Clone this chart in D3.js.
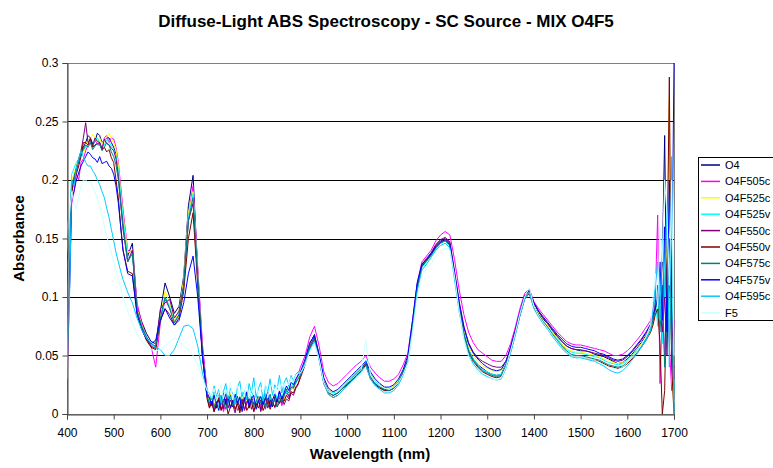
<!DOCTYPE html>
<html><head><meta charset="utf-8">
<script src="https://cdn.jsdelivr.net/npm/d3@7"></script>
<style>html,body{margin:0;padding:0;background:#fff;}svg{display:block;font-family:Arial,"Liberation Sans",sans-serif;}</style>
</head><body>
<svg id="c" width="773" height="468"></svg>
<script>
// Wavelengths (nm)
const wavelengths = [400,405,410,415,420,425,430,435,440,445,450,455,460,465,470,475,480,485,490,495,500,505,510,515,520,
 530,540,550,560,570,580,590,600,610,620,630,640,650,660,670,680,690,700,
 705,710,715,720,725,730,735,740,745,750,755,760,765,770,775,780,785,790,795,800,805,810,815,820,825,830,835,840,845,850,855,860,865,870,875,880,885,890,895,
 900,910,920,930,940,950,960,970,980,990,1000,1010,1020,1030,1040,1050,1060,1070,1080,1090,1100,1110,1120,1130,1140,1150,1160,1170,1180,1190,
 1200,1210,1220,1230,1240,1250,1260,1270,1280,1290,1300,1310,1320,1330,1340,1350,1360,1370,1380,1390,1400,1410,1420,1430,1440,1450,1460,1470,1480,1490,
 1500,1510,1520,1530,1540,1550,1560,1570,1580,1590,1600,1610,1620,1630,1640,1650,
 1655,1660,1665,1670,1675,1680,1685,1690,1695,1700];

const seriesNames = ["O4","O4F505c","O4F525c","O4F525v","O4F550c","O4F550v","O4F575c","O4F575v","O4F595c","F5"];
const seriesColors = ["#000080","#FF00FF","#FFFF00","#00FFFF","#800080","#800000","#008080","#0000FF","#00CCFF","#CCFFFF"];

const O4 = [.06,.12,.19,.2,.208,.216,.222,.228,.232,.238,.236,.231,.233,.24,.238,.232,.234,.236,.236,.232,.228,.222,.207,.185,.165,
 .135,.146,.092,.079,.069,.062,.06,.088,.112,.1,.086,.092,.118,.178,.204,.122,.056,.018,
 .014,.008,.019,.005,.012,.016,.004,.013,.009,.018,.006,.011,.015,.003,.012,.009,.017,.005,.014,.01,.007,.016,.004,.012,.018,.008,.013,.006,.015,.011,.019,.009,.016,.021,.015,.024,.022,.028,.03,
 .034,.045,.06,.068,.05,.028,.019,.016,.018,.022,.027,.031,.035,.039,.044,.032,.027,.024,.021,.021,.023,.028,.036,.047,.076,.11,.127,.132,.137,.144,
 .148,.15,.146,.119,.092,.07,.055,.047,.042,.039,.036,.034,.033,.034,.043,.056,.07,.086,.1,.106,.094,.087,.081,.077,.071,.066,.062,.058,.056,.055,
 .054,.054,.053,.051,.05,.049,.047,.045,.043,.044,.047,.051,.056,.061,.067,.074,
 .08,.088,.1,.095,.13,.238,.07,.15,.05,.04];
const O4F505c = [.02,.1,.18,.19,.205,.2,.215,.218,.225,.23,.232,.228,.235,.23,.23,.226,.236,.238,.232,.236,.235,.228,.215,.195,.175,
 .14,.138,.095,.078,.066,.058,.04,.078,.098,.09,.078,.085,.112,.17,.195,.125,.06,.02,
 .008,.015,.004,.011,.006,.014,.002,.009,.013,.005,.01,.016,.003,.008,.012,.004,.011,.007,.015,.002,.009,.013,.006,.01,.004,.014,.008,.012,.005,.011,.016,.007,.013,.018,.015,.022,.024,.028,.034,
 .04,.05,.066,.075,.058,.036,.027,.024,.026,.03,.034,.038,.042,.045,.05,.04,.035,.031,.028,.028,.03,.034,.042,.052,.08,.112,.13,.135,.14,.148,
 .153,.156,.153,.132,.106,.085,.07,.061,.055,.052,.049,.046,.045,.045,.05,.06,.074,.09,.103,.107,.096,.09,.085,.08,.075,.07,.066,.062,.06,.059,
 .059,.058,.057,.056,.055,.054,.052,.05,.05,.051,.054,.058,.063,.068,.074,.08,
 .09,.1,.17,.026,.09,.05,.11,.06,.02,.08];
const O4F525c = [.165,.14,.2,.205,.212,.218,.225,.222,.23,.234,.235,.239,.237,.232,.236,.231,.234,.237,.24,.236,.232,.226,.212,.19,.17,
 .138,.14,.09,.076,.066,.06,.058,.082,.105,.095,.08,.088,.115,.172,.19,.12,.052,.016,
 .011,.017,.007,.013,.02,.009,.015,.006,.012,.018,.008,.014,.005,.011,.016,.009,.013,.019,.007,.012,.006,.015,.009,.017,.011,.006,.014,.01,.018,.008,.012,.016,.011,.02,.017,.024,.021,.026,.03,
 .035,.046,.059,.066,.049,.029,.021,.018,.02,.024,.028,.032,.036,.04,.045,.035,.029,.025,.023,.022,.024,.029,.037,.048,.076,.109,.126,.131,.136,.142,
 .147,.149,.145,.12,.094,.072,.058,.05,.045,.041,.039,.037,.036,.037,.044,.056,.07,.086,.1,.105,.093,.086,.08,.075,.07,.065,.06,.056,.054,.053,
 .053,.052,.051,.05,.049,.047,.046,.044,.043,.044,.046,.05,.055,.06,.066,.073,
 .078,.085,.095,.11,.08,.12,.14,.27,.03,.01];
const O4F525v = [.14,.16,.205,.21,.215,.218,.222,.226,.228,.231,.232,.229,.234,.236,.232,.228,.23,.234,.233,.229,.226,.22,.208,.188,.168,
 .133,.138,.088,.075,.066,.059,.057,.08,.1,.092,.078,.086,.11,.168,.188,.118,.05,.015,
 .013,.009,.018,.011,.006,.016,.012,.02,.008,.014,.01,.017,.013,.007,.019,.011,.015,.009,.021,.012,.008,.016,.013,.006,.018,.011,.015,.009,.02,.013,.017,.012,.022,.018,.025,.021,.028,.026,.032,
 .036,.044,.058,.065,.048,.028,.02,.018,.019,.023,.027,.031,.035,.039,.046,.034,.028,.024,.022,.021,.023,.028,.036,.047,.076,.108,.125,.13,.135,.141,
 .146,.148,.144,.118,.091,.069,.055,.047,.042,.038,.036,.034,.033,.034,.042,.055,.07,.087,.101,.106,.092,.085,.079,.074,.069,.064,.059,.055,.053,.052,
 .052,.051,.05,.049,.048,.046,.044,.043,.042,.043,.046,.05,.054,.059,.065,.072,
 .085,.1,.075,.12,.06,.14,.09,.18,.11,.02];
const O4F550c = [.11,.15,.195,.2,.21,.218,.225,.236,.249,.232,.234,.229,.236,.233,.232,.226,.235,.231,.23,.227,.225,.218,.203,.18,.158,
 .13,.14,.088,.074,.064,.058,.056,.09,.095,.098,.082,.088,.11,.165,.18,.115,.05,.015,
 .006,.011,.002,.009,.014,.004,.01,.017,.005,.012,.008,.001,.011,.006,.013,.003,.009,.015,.004,.01,.007,.012,.002,.009,.014,.005,.011,.008,.013,.006,.01,.015,.008,.013,.011,.018,.016,.022,.025,
 .033,.044,.058,.066,.049,.028,.019,.016,.018,.022,.026,.03,.034,.038,.043,.031,.026,.023,.02,.02,.022,.027,.035,.046,.074,.108,.128,.133,.138,.145,
 .149,.151,.147,.122,.096,.075,.061,.053,.048,.045,.043,.041,.04,.04,.045,.057,.071,.087,.101,.106,.095,.088,.082,.077,.072,.067,.062,.058,.056,.055,
 .055,.054,.053,.052,.051,.05,.048,.046,.045,.046,.049,.053,.058,.063,.069,.076,
 .08,.095,.11,.09,.07,.1,.05,.13,.09,.03];
const O4F550v = [.13,.15,.19,.198,.205,.212,.22,.232,.232,.23,.236,.228,.23,.231,.232,.226,.228,.224,.226,.219,.215,.2,.185,.16,.14,
 .122,.12,.086,.073,.063,.057,.055,.08,.09,.085,.076,.082,.105,.15,.172,.11,.05,.013,
 .005,.01,.002,.008,.013,.003,.007,.011,0,.006,.012,.004,.009,.001,.008,.014,.003,.007,.011,.002,.009,.005,.012,.003,.008,.013,.004,.01,.006,.012,.009,.014,.011,.016,.013,.019,.018,.023,.026,
 .031,.042,.056,.064,.047,.026,.017,.014,.016,.02,.025,.029,.033,.037,.042,.03,.025,.022,.02,.02,.022,.027,.035,.046,.075,.108,.126,.131,.136,.143,
 .147,.149,.145,.118,.09,.068,.053,.045,.04,.036,.034,.032,.031,.032,.04,.053,.068,.084,.098,.103,.091,.084,.078,.073,.067,.062,.057,.053,.05,.049,
 .049,.048,.047,.046,.045,.043,.041,.04,.039,.04,.043,.047,.052,.057,.063,.07,
 .076,.085,.09,.06,0,.02,.12,.288,.04,0];
const O4F575c = [.09,.14,.195,.203,.21,.216,.222,.226,.23,.228,.232,.226,.229,.231,.231,.225,.228,.232,.23,.224,.22,.213,.2,.18,.16,
 .13,.137,.088,.075,.066,.06,.058,.082,.1,.09,.078,.085,.11,.165,.185,.115,.05,.015,
 .009,.015,.006,.012,.017,.008,.013,.004,.011,.016,.007,.013,.009,.015,.005,.012,.018,.008,.013,.006,.011,.016,.009,.014,.005,.012,.017,.008,.012,.006,.014,.01,.016,.02,.018,.023,.022,.027,.03,
 .033,.044,.058,.065,.048,.027,.018,.016,.018,.022,.026,.03,.034,.038,.043,.032,.026,.023,.021,.02,.022,.027,.036,.047,.077,.11,.127,.131,.136,.142,
 .146,.148,.144,.118,.09,.068,.054,.046,.041,.037,.035,.033,.032,.033,.041,.054,.069,.085,.099,.104,.092,.085,.079,.074,.068,.063,.058,.054,.051,.05,
 .05,.049,.048,.047,.046,.044,.042,.041,.04,.041,.044,.048,.053,.058,.064,.071,
 .08,.09,.1,.07,.11,.04,.08,.12,.06,.02];
const O4F575v = [.08,.1,.185,.19,.2,.206,.212,.216,.22,.224,.222,.219,.218,.215,.22,.214,.215,.216,.212,.21,.205,.195,.18,.16,.14,
 .12,.118,.085,.072,.064,.06,.063,.08,.09,.082,.076,.08,.095,.12,.135,.1,.05,.015,
 .014,.007,.016,.01,.003,.012,.018,.008,.015,.005,.011,.017,.009,.014,.002,.012,.019,.007,.013,.016,.004,.011,.015,.008,.013,.019,.006,.012,.017,.01,.02,.013,.018,.024,.02,.027,.025,.03,.033,
 .036,.047,.061,.067,.051,.031,.022,.019,.021,.025,.029,.033,.037,.041,.045,.036,.03,.026,.023,.023,.025,.03,.038,.05,.08,.112,.128,.132,.137,.143,
 .147,.149,.145,.121,.095,.074,.06,.052,.047,.043,.04,.038,.037,.038,.045,.057,.071,.087,.101,.105,.095,.088,.083,.078,.073,.068,.064,.06,.058,.057,
 .057,.056,.055,.054,.052,.051,.049,.047,.046,.047,.05,.054,.059,.064,.07,.077,
 .085,.09,.1,.13,.08,.16,.07,.2,.1,.3];
const O4F595c = [.04,.09,.2,.195,.21,.218,.225,.22,.215,.212,.212,.208,.205,.2,.196,.19,.185,.176,.168,.158,.148,.138,.13,.122,.115,
 .104,.095,.082,.072,.065,.06,.057,.055,.05,.05,.055,.065,.075,.076,.073,.058,.035,.02,
 .018,.012,.024,.015,.021,.009,.019,.026,.013,.022,.017,.008,.023,.028,.015,.02,.012,.026,.018,.031,.014,.022,.027,.011,.024,.019,.03,.016,.025,.021,.033,.018,.027,.031,.024,.033,.028,.034,.036,
 .034,.043,.055,.062,.046,.026,.017,.014,.016,.02,.024,.028,.032,.036,.041,.03,.024,.021,.018,.018,.02,.025,.033,.044,.072,.105,.123,.128,.134,.14,
 .144,.146,.142,.115,.087,.065,.051,.043,.038,.034,.032,.03,.029,.03,.039,.052,.067,.084,.098,.104,.09,.083,.077,.072,.066,.061,.056,.052,.049,.048,
 .048,.047,.046,.045,.043,.041,.038,.036,.035,.037,.041,.046,.051,.057,.063,.072,
 .09,.11,.13,.08,.15,.1,.18,.04,.22,0];
const F5 = [.03,.17,.19,.18,.175,.185,.195,.2,.2,.198,.198,.194,.19,.184,.178,.17,.16,.152,.145,.138,.13,.122,.115,.108,.1,
 .088,.078,.068,.062,.058,.055,.054,.055,.058,.062,.065,.062,.058,.055,.05,.042,.03,.02,
 .019,.014,.022,.011,.018,.025,.013,.021,.016,.027,.012,.02,.024,.015,.022,.018,.026,.013,.021,.017,.028,.015,.023,.019,.026,.014,.022,.027,.017,.024,.02,.029,.023,.028,.025,.031,.027,.033,.035,
 .035,.042,.053,.06,.047,.027,.019,.017,.019,.023,.027,.03,.034,.038,.063,.033,.027,.024,.022,.021,.023,.027,.034,.044,.07,.1,.118,.124,.129,.135,
 .139,.142,.14,.118,.088,.064,.049,.041,.036,.033,.031,.03,.029,.031,.04,.054,.069,.086,.1,.108,.092,.084,.078,.073,.067,.062,.057,.053,.05,.049,
 .049,.048,.047,.046,.044,.042,.04,.039,.038,.04,.044,.048,.053,.059,.066,.076,
 .1,.12,.09,.16,.13,.2,.17,.11,.2,.05];

const xTicks = [400,500,600,700,800,900,1000,1100,1200,1300,1400,1500,1600,1700];
const yTicks = [0,0.05,0.1,0.15,0.2,0.25,0.3];
const yTickLabels = ["0","0.05","0.1","0.15","0.2","0.25","0.3"];

const seriesValues = [O4,O4F505c,O4F525c,O4F525v,O4F550c,O4F550v,O4F575c,O4F575v,O4F595c,F5];

const svg = d3.select("#c");
const x = d3.scaleLinear().domain([400,1700]).range([67,674]);
const y = d3.scaleLinear().domain([0,0.3]).range([414,63]);

// title
svg.append("text").attr("x",386).attr("y",27).attr("text-anchor","middle")
  .attr("font-size",17).attr("font-weight","bold").attr("fill","#000")
  .text("Diffuse-Light ABS Spectroscopy - SC Source - MIX O4F5");

// gridlines
svg.append("g").selectAll("line").data(yTicks.filter(d=>d>0 && d<0.3)).join("line")
  .attr("x1",x(400)).attr("x2",x(1700))
  .attr("y1",d=>Math.round(y(d))+0.5).attr("y2",d=>Math.round(y(d))+0.5)
  .attr("stroke","#000").attr("stroke-width",1);

// plot border
svg.append("rect").attr("x",67.5).attr("y",63.5).attr("width",607).attr("height",351)
  .attr("fill","none").attr("stroke","#808080").attr("stroke-width",1);

// series
svg.append("clipPath").attr("id","pc").append("rect")
  .attr("x",67).attr("y",62).attr("width",608).attr("height",353);
const gL = svg.append("g").attr("clip-path","url(#pc)");
const line = d3.line().x((d,i)=>x(wavelengths[i])).y(d=>y(d));
seriesValues.forEach((vals,k)=>{
  gL.append("path").datum(vals).attr("d",line)
    .attr("fill","none").attr("stroke",seriesColors[k]).attr("stroke-width",1)
    .attr("stroke-linejoin","round");
});

// axes
const xAxis = d3.axisBottom(x).tickValues(xTicks).tickSize(5).tickPadding(9).tickFormat(d3.format("d"));
const gx = svg.append("g").attr("transform","translate(0,414.5)").call(xAxis);
gx.select(".domain").attr("stroke","#444");
gx.selectAll(".tick line").attr("stroke","#444");
gx.selectAll("text").attr("font-size",12).attr("font-family","Arial,'Liberation Sans',sans-serif").attr("fill","#000");

const yAxis = d3.axisLeft(y).tickValues(yTicks).tickSize(5).tickPadding(4).tickFormat((d,i)=>yTickLabels[i]);
const gy = svg.append("g").attr("transform","translate(67.5,0)").call(yAxis);
gy.select(".domain").attr("stroke","#444");
gy.selectAll(".tick line").attr("stroke","#444");
gy.selectAll("text").attr("font-size",12).attr("font-family","Arial,'Liberation Sans',sans-serif").attr("fill","#000");

// axis titles
svg.append("text").attr("x",370).attr("y",459).attr("text-anchor","middle")
  .attr("font-size",15).attr("font-weight","bold").text("Wavelength (nm)");
svg.append("text").attr("transform","translate(24,238.5) rotate(-90)").attr("text-anchor","middle")
  .attr("font-size",15).attr("font-weight","bold").text("Absorbance");

// legend
const lg = svg.append("g");
lg.append("rect").attr("x",698.5).attr("y",157.5).attr("width",80).attr("height",163)
  .attr("fill","#fff").attr("stroke","#000").attr("stroke-width",1);
seriesNames.forEach((n,k)=>{
  const yy = 165 + k*16.4;
  lg.append("line").attr("x1",701).attr("x2",720).attr("y1",yy).attr("y2",yy)
    .attr("stroke",seriesColors[k]).attr("stroke-width",1.5);
  lg.append("text").attr("x",725).attr("y",yy+4).attr("font-size",11).attr("fill","#000").text(n);
});
</script>
</body></html>
